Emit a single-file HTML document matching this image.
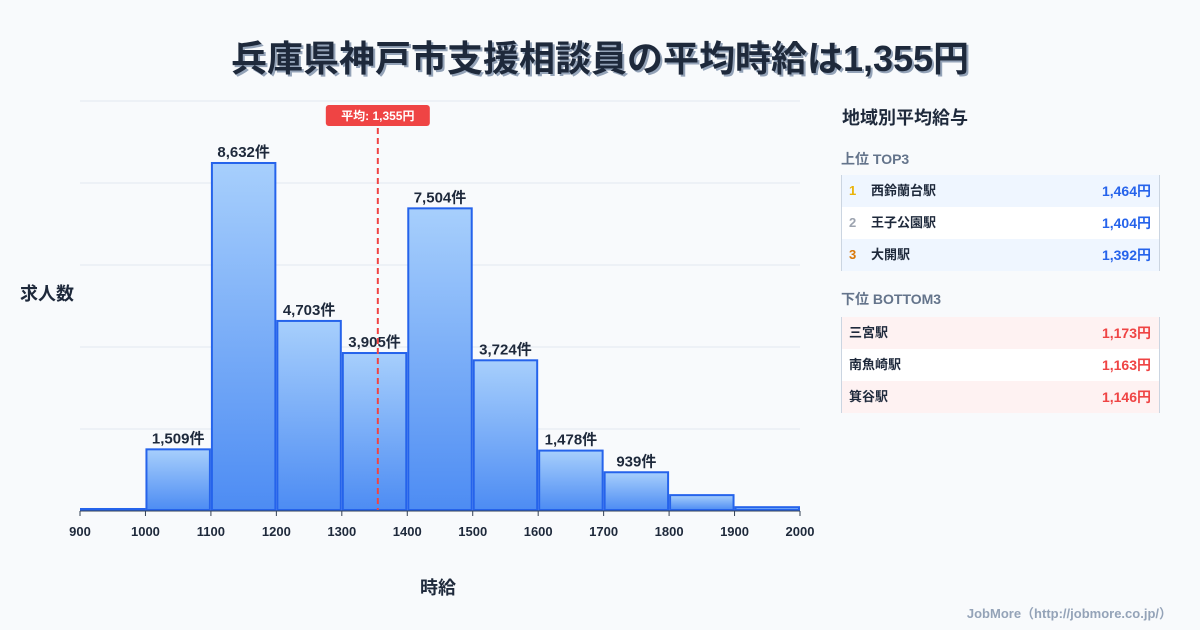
<!DOCTYPE html>
<html><head><meta charset="utf-8">
<style>
body{margin:0;width:1200px;height:630px;background:#f8fafc;font-family:"Liberation Sans","Noto Sans CJK JP",sans-serif;position:relative;overflow:hidden;color:#1e293b}
.t{position:absolute;white-space:nowrap}
.panel-row{position:absolute;left:841px;width:319px;height:32px;border-left:1px solid #cbd5e1;border-right:1px solid #cbd5e1;box-sizing:border-box;font-size:13px;font-weight:bold;line-height:32px}
.panel-row .v{position:absolute;right:8px;font-size:14px}
</style></head><body>
<div class="t" style="left:0;width:1200px;text-align:center;top:30px;font-size:36px;font-weight:bold;text-shadow:2px 2px 0 #94a3b8">兵庫県神戸市支援相談員の平均時給は1,355円</div>
<div class="t" style="left:20px;top:280px;font-size:18px;font-weight:bold">求人数</div>
<div class="t" style="left:420px;top:574px;font-size:18px;font-weight:bold">時給</div>
<svg id="chart" width="1200" height="630" style="position:absolute;left:0;top:0">
<defs><linearGradient id="g" x1="0" y1="0" x2="0" y2="1"><stop offset="0" stop-color="#a7cffc"/><stop offset="1" stop-color="#4d8cf3"/></linearGradient></defs>
</svg>
<div class="t" style="left:842px;top:104px;font-size:18px;font-weight:bold">地域別平均給与</div>
<div class="t" style="left:841px;top:149px;font-size:14px;font-weight:bold;color:#64748b">上位 TOP3</div>
<div class="panel-row" style="top:175px;background:#eff6ff"><span style="position:absolute;left:7px;color:#eab308">1</span><span style="position:absolute;left:29px">西鈴蘭台駅</span><span class="v" style="color:#2563eb">1,464円</span></div>
<div class="panel-row" style="top:207px;background:#fff"><span style="position:absolute;left:7px;color:#9ca3af">2</span><span style="position:absolute;left:29px">王子公園駅</span><span class="v" style="color:#2563eb">1,404円</span></div>
<div class="panel-row" style="top:239px;background:#eff6ff"><span style="position:absolute;left:7px;color:#d97706">3</span><span style="position:absolute;left:29px">大開駅</span><span class="v" style="color:#2563eb">1,392円</span></div>
<div class="t" style="left:841px;top:289px;font-size:14px;font-weight:bold;color:#64748b">下位 BOTTOM3</div>
<div class="panel-row" style="top:317px;background:#fef2f2"><span style="position:absolute;left:7px">三宮駅</span><span class="v" style="color:#ef4444">1,173円</span></div>
<div class="panel-row" style="top:349px;background:#fff"><span style="position:absolute;left:7px">南魚崎駅</span><span class="v" style="color:#ef4444">1,163円</span></div>
<div class="panel-row" style="top:381px;background:#fef2f2"><span style="position:absolute;left:7px">箕谷駅</span><span class="v" style="color:#ef4444">1,146円</span></div>
<div class="t" style="right:28px;top:603px;font-size:13px;font-weight:bold;color:#94a3b8">JobMore（http://jobmore.co.jp/）</div>
<script>
const binStarts=[900,1000,1100,1200,1300,1400,1500,1600,1700,1800,1900];
const counts=[25,1509,8632,4703,3905,7504,3724,1478,939,370,70];
const labels=["","1,509件","8,632件","4,703件","3,905件","7,504件","3,724件","1,478件","939件","",""];
const xTicks=[900,1000,1100,1200,1300,1400,1500,1600,1700,1800,1900,2000];
const meanValue=1355;
const meanLabel="平均: 1,355円";
const NS="http://www.w3.org/2000/svg";
const svg=document.getElementById('chart');
const x=v=>80+(v-900)*720/1100;
const y=v=>510-v*0.0402;
function mk(t,a){const e=document.createElementNS(NS,t);for(const k in a)e.setAttribute(k,a[k]);svg.appendChild(e);return e;}
for(let i=0;i<5;i++){
 const l=mk('line',{x1:80,x2:800,y1:101+i*82,y2:101+i*82,stroke:'#e2e8f0','stroke-width':1});
 
 
}
binStarts.forEach((b,i)=>{
 const x0=x(b)+1,x1=x(b+100)-1,yt=y(counts[i]);
 const r=mk('rect',{x:x0,y:yt,width:x1-x0,height:510-yt,fill:'url(#g)',stroke:'#2563eb','stroke-width':2});
 
 
 if(labels[i]){
  const t=mk('text',{x:(x0+x1)/2,y:yt-6,'text-anchor':'middle','font-size':15,'font-weight':'bold',fill:'#1e293b'});
  t.textContent=labels[i];
  
  
 }
});
const ax=mk('line',{x1:80,x2:800,y1:511,y2:511,stroke:'#334155','stroke-width':1});


xTicks.forEach(v=>{
 const tk=mk('line',{x1:x(v),x2:x(v),y1:511,y2:516,stroke:'#334155'});
 
 
 const t=mk('text',{x:x(v),y:536,'text-anchor':'middle','font-size':13,'font-weight':'bold',fill:'#1e293b'});
 t.textContent=v;
 
 
});
const mx=x(meanValue);
const ml=mk('line',{x1:mx,x2:mx,y1:128,y2:510,stroke:'#ef4444','stroke-width':2,'stroke-dasharray':'6,4'});


const mb=mk('rect',{x:mx-52,y:105,width:104,height:21,rx:3,fill:'#ef4444'});


const mt=mk('text',{x:mx,y:120,'text-anchor':'middle','font-size':12,'font-weight':'bold',fill:'#fff'});
mt.textContent=meanLabel;


</script>
</body></html>
